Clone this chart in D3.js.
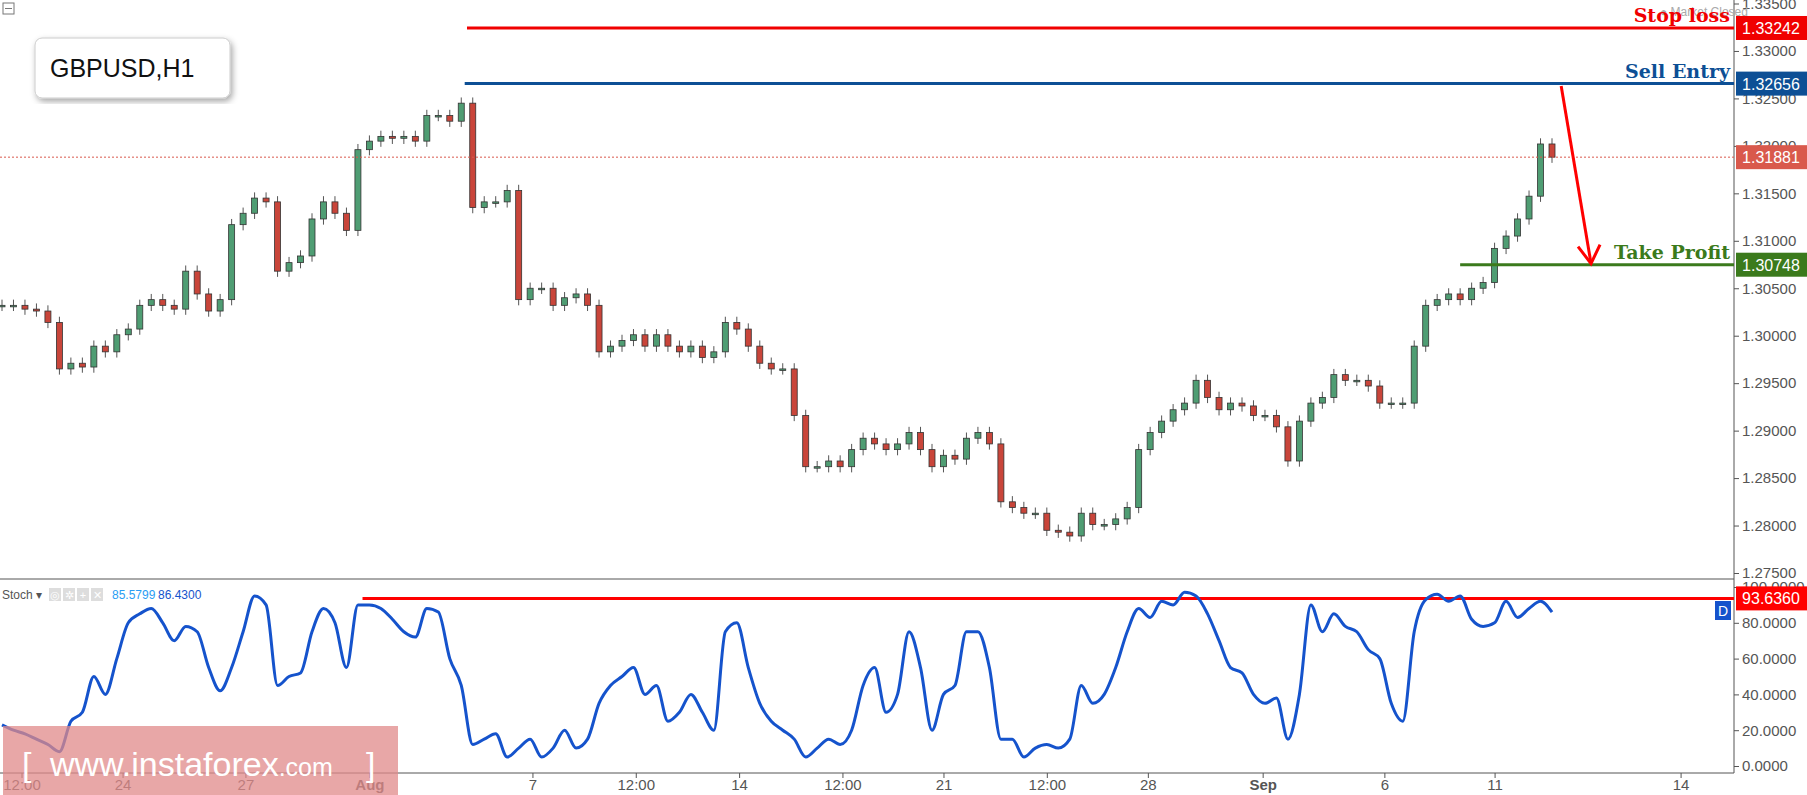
<!DOCTYPE html>
<html><head>
<meta charset="utf-8">
<script src="https://d3js.org/d3.v7.min.js"></script>
<style>
  body { margin: 0; background: #fff; font-family: Arial, "Liberation Sans", sans-serif; }
  .axis text { fill: #555; font-size: 15px; }
  .axis .domain { stroke: #555; }
  .axis line { stroke: #555; }
</style>
</head><body>
<svg id="chart" width="1807" height="795"></svg>
<script>
// closes, one per bar
let closes = [1.3032,1.3032,1.3028,1.3026,1.3014,1.2965,1.2971,1.2967,1.2989,1.2983,
  1.3001,1.3007,1.3032,1.3038,1.3032,1.3028,1.3068,1.3044,1.3026,1.3038,
  1.3117,1.3129,1.3145,1.3141,1.3068,1.3077,1.3084,1.3123,1.3141,1.3129,
  1.3111,1.3196,1.3205,1.3210,1.3208,1.3210,1.3205,1.3232,1.3232,1.3226,
  1.3245,1.3135,1.3141,1.3141,1.3153,1.3038,1.3050,1.3050,1.3032,1.3040,
  1.3044,1.3032,1.2983,1.2989,1.2995,1.3001,1.2989,1.3001,1.2989,1.2983,
  1.2989,1.2977,1.2983,1.3014,1.3007,1.2989,1.2971,1.2965,1.2965,1.2916,
  1.2862,1.2862,1.2868,1.2862,1.2880,1.2892,1.2886,1.2880,1.2886,1.2898,
  1.2880,1.2862,1.2874,1.2870,1.2892,1.2898,1.2886,1.2825,1.2819,1.2813,
  1.2813,1.2795,1.2793,1.2789,1.2813,1.2801,1.2801,1.2807,1.2819,1.2880,
  1.2898,1.2910,1.2922,1.2929,1.2953,1.2935,1.2922,1.2929,1.2926,1.2916,
  1.2916,1.2904,1.2868,1.2910,1.2929,1.2935,1.2959,1.2953,1.2953,1.2947,
  1.2929,1.2929,1.2929,1.2989,1.3032,1.3038,1.3044,1.3038,1.3050,1.3056,
  1.3092,1.3105,1.3123,1.3147,1.3202,1.31881];
let stoch = [23,20,18,15,12,8,25,30,50,40,60,80,85,88,80,70,78,75,55,42,
  55,75,95,90,45,50,52,75,88,80,55,90,90,88,82,75,72,88,86,60,
  45,12,15,18,5,10,15,5,10,20,10,15,35,45,50,55,40,45,25,30,
  40,30,20,75,80,55,35,25,20,15,5,10,15,12,20,45,55,30,40,75,
  55,20,40,45,75,75,55,15,15,5,10,12,10,15,45,35,40,55,75,88,
  83,92,90,97,95,85,70,55,52,40,35,38,15,40,90,75,85,78,75,65,
  60,35,25,75,93,96,92,95,82,78,80,92,83,88,92,86];

let tickIdx = [1.7,10.5,21.2,32,46.2,55.2,64.2,73.2,82,91,99.8,109.8,120.4,130,146.2];
let tickNames = ["12:00","24","27","Aug","7","12:00","14","12:00","21","12:00","28","Sep","6","11","14"];
let priceTicks = [1.275,1.28,1.285,1.29,1.295,1.30,1.305,1.31,1.315,1.32,1.325,1.33,1.335];
let stochTicks = [0,20,40,60,80,100];

let levels = [
  {name:"Stop loss", value:1.33242, color:"#f00000", fromIdx:40.5, tag:"#f00000"},
  {name:"Sell Entry", value:1.32656, color:"#0d4f95", fromIdx:40.3, tag:"#0d4f95"},
  {name:"Take Profit", value:1.30748, color:"#3b7a1c", fromIdx:127, tag:"#3b7a1c"}
];
let lastPrice = 1.31881;
let stochLevel = 93.636;

let svg = d3.select("#chart");
let axisX = 1734;

let x = d3.scaleLinear().domain([0, 135]).range([2, 1552]);
let y = d3.scaleLinear().domain([1.275, 1.335]).range([573, 3.5]);
let ys = d3.scaleLinear().domain([0, 100]).range([766, 587]);

// panel frames
svg.append("line").attr("x1",0).attr("x2",axisX).attr("y1",579).attr("y2",579).attr("stroke","#555");
svg.append("line").attr("x1",axisX).attr("x2",axisX).attr("y1",0).attr("y2",773).attr("stroke","#555");

// price axis
let pAxis = svg.append("g").attr("class","axis").attr("transform","translate("+axisX+",0)")
  .call(d3.axisRight(y).tickValues(priceTicks).tickFormat(d3.format(".5f")).tickSize(5));
pAxis.select(".domain").remove();
let sAxis = svg.append("g").attr("class","axis").attr("transform","translate("+axisX+",0)")
  .call(d3.axisRight(ys).tickValues(stochTicks).tickFormat(d3.format(".4f")).tickSize(5));
sAxis.select(".domain").remove();

// time axis
let xAxis = svg.append("g").attr("class","axis").attr("transform","translate(0,773)")
  .call(d3.axisBottom(x).tickValues(tickIdx).tickFormat((d,i) => tickNames[i]).tickSize(5));
xAxis.select(".domain").attr("d","M0,0H"+axisX);
xAxis.selectAll("text").attr("y",6).attr("dy","0.75em")
  .style("font-weight",(d,i) => (tickNames[i]=="Aug"||tickNames[i]=="Sep") ? "bold" : "normal");

// candles
let cw = 6;
let candles = svg.append("g");
closes.forEach((c,i) => {
  let o = i == 0 ? c : closes[i-1];
  let up = c >= o;
  let hi = Math.max(o,c) + 0.0006, lo = Math.min(o,c) - 0.0006;
  candles.append("line").attr("x1",x(i)).attr("x2",x(i)).attr("y1",y(hi)).attr("y2",y(lo))
    .attr("stroke","#555").attr("stroke-width",1);
  let top = y(Math.max(o,c)), h = Math.max(1.5, Math.abs(y(o)-y(c)));
  candles.append("rect").attr("x",x(i)-cw/2).attr("y",top).attr("width",cw).attr("height",h)
    .attr("fill", up ? "#4f9d73" : "#c9453a").attr("stroke","#333").attr("stroke-width",0.8);
});

// last price dotted line
svg.append("line").attr("x1",0).attr("x2",axisX).attr("y1",y(lastPrice)).attr("y2",y(lastPrice))
  .attr("stroke","#d9594c").attr("stroke-dasharray","2,2");
svg.append("rect").attr("x",axisX+2).attr("y",y(lastPrice)-12).attr("width",71).attr("height",24).attr("fill","#d9594c");
svg.append("text").attr("x",axisX+37).attr("y",y(lastPrice)+6).attr("text-anchor","middle")
  .attr("fill","#fff").attr("font-size","16px").text(lastPrice.toFixed(5));

svg.append("text").attr("x",1660).attr("y",16).attr("fill","#aaa").attr("font-size","12px").text("● Market Closed");

// levels
levels.forEach(l => {
  svg.append("line").attr("x1",x(l.fromIdx)).attr("x2",axisX).attr("y1",y(l.value)).attr("y2",y(l.value))
    .attr("stroke",l.color).attr("stroke-width",3);
  svg.append("text").attr("x",1730).attr("y",y(l.value)-6).attr("text-anchor","end")
    .attr("fill",l.color).attr("font-size","19px").attr("font-weight","bold")
    .attr("font-family","'DejaVu Serif', serif").text(l.name);
  svg.append("rect").attr("x",axisX+2).attr("y",y(l.value)-12).attr("width",71).attr("height",24).attr("fill",l.tag);
  svg.append("text").attr("x",axisX+37).attr("y",y(l.value)+6).attr("text-anchor","middle")
    .attr("fill","#fff").attr("font-size","16px").text(l.value.toFixed(5));
});

// arrow
let a0 = [x(135.8), y(1.3263)], a1 = [x(138.4), y(1.3076)];
svg.append("line").attr("x1",a0[0]).attr("y1",a0[1]).attr("x2",a1[0]).attr("y2",a1[1])
  .attr("stroke","#f00").attr("stroke-width",3);
svg.append("path").attr("d","M"+(a1[0]-13)+","+(a1[1]-17)+"L"+a1[0]+","+a1[1]+"L"+(a1[0]+9)+","+(a1[1]-19))
  .attr("fill","none").attr("stroke","#f00").attr("stroke-width",3);

// symbol box
svg.append("defs").append("filter").attr("id","sh").append("feDropShadow")
  .attr("dx",2).attr("dy",3).attr("stdDeviation",3).attr("flood-opacity",0.35);
svg.append("rect").attr("x",35).attr("y",38).attr("width",195).attr("height",60).attr("rx",7)
  .attr("fill","#fff").attr("stroke","#ccc").attr("filter","url(#sh)");
svg.append("text").attr("x",50).attr("y",77).attr("font-size","25px").attr("fill","#111").text("GBPUSD,H1");
svg.append("rect").attr("x",3).attr("y",3).attr("width",11).attr("height",11).attr("fill","none").attr("stroke","#777");
svg.append("line").attr("x1",5).attr("x2",12).attr("y1",8.5).attr("y2",8.5).attr("stroke","#777");

// stochastic
svg.append("line").attr("x1",x(31.4)).attr("x2",axisX).attr("y1",ys(stochLevel)).attr("y2",ys(stochLevel))
  .attr("stroke","#f00").attr("stroke-width",3);
let sLine = d3.line().x((d,i) => x(i)).y(d => ys(d)).curve(d3.curveMonotoneX);
svg.append("path").datum(stoch).attr("d",sLine).attr("fill","none").attr("stroke","#1553cc").attr("stroke-width",3);
svg.append("rect").attr("x",axisX+2).attr("y",ys(stochLevel)-12).attr("width",71).attr("height",24).attr("fill","#f00");
svg.append("text").attr("x",axisX+37).attr("y",ys(stochLevel)+6).attr("text-anchor","middle")
  .attr("fill","#fff").attr("font-size","16px").text(stochLevel.toFixed(4));
svg.append("rect").attr("x",1715).attr("y",601).attr("width",16).attr("height",19).attr("fill","#1553cc");
svg.append("text").attr("x",1723).attr("y",616).attr("text-anchor","middle").attr("fill","#fff").attr("font-size","14px").text("D");

let leg = svg.append("g").attr("transform","translate(2,599)").attr("font-size","12px");
leg.append("text").attr("x",0).attr("y",0).attr("fill","#555").text("Stoch ▾");
[47,61,75,89].forEach((px,i) => {
  leg.append("rect").attr("x",px).attr("y",-11).attr("width",12).attr("height",13).attr("fill","#ddd");
  leg.append("text").attr("x",px+6).attr("y",0).attr("text-anchor","middle").attr("fill","#fff").attr("font-size","11px").text(["◎","✲","+","✕"][i]);
});
leg.append("text").attr("x",110).attr("y",0).attr("fill","#2a9df4").text("85.5799");
leg.append("text").attr("x",156).attr("y",0).attr("fill","#1553cc").text("86.4300");

// watermark
svg.append("rect").attr("x",3).attr("y",726).attr("width",395).attr("height",69).attr("fill","#e08a8a").attr("opacity",0.75);
svg.append("text").attr("x",22).attr("y",776).attr("fill","#fff").attr("font-size","34px").text("[");
svg.append("text").attr("x",50).attr("y",776).attr("fill","#fff").attr("font-size","34px")
  .html('www.instaforex<tspan font-size="25px">.com</tspan>');
svg.append("text").attr("x",366).attr("y",776).attr("fill","#fff").attr("font-size","34px").text("]");
</script>
</body></html>
